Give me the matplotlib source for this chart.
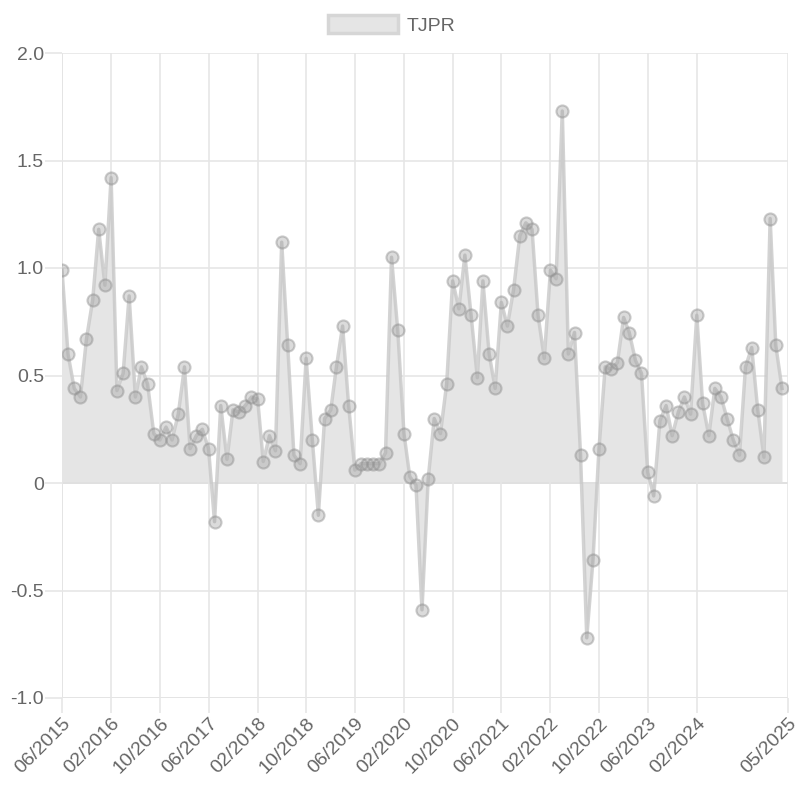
import pandas as pd
import matplotlib
matplotlib.use("Agg")
import matplotlib.pyplot as plt
import matplotlib.dates as mdates
from matplotlib.patches import Patch

series_name = "TJPR"
start_month = "2015-06-01"
end_month = "2025-05-01"

# monthly values 06/2015 .. 04/2025
values = [
    0.99, 0.60, 0.44, 0.40, 0.67, 0.85, 1.18, 0.92, 1.42, 0.43,
    0.51, 0.87, 0.40, 0.54, 0.46, 0.23, 0.20, 0.26, 0.20, 0.32,
    0.54, 0.16, 0.22, 0.25, 0.16, -0.18, 0.36, 0.11, 0.34, 0.33,
    0.36, 0.40, 0.39, 0.10, 0.22, 0.15, 1.12, 0.64, 0.13, 0.09,
    0.58, 0.20, -0.15, 0.30, 0.34, 0.54, 0.73, 0.36, 0.06, 0.09,
    0.09, 0.09, 0.09, 0.14, 1.05, 0.71, 0.23, 0.03, -0.01, -0.59,
    0.02, 0.30, 0.23, 0.46, 0.94, 0.81, 1.06, 0.78, 0.49, 0.94,
    0.60, 0.44, 0.84, 0.73, 0.90, 1.15, 1.21, 1.18, 0.78, 0.58,
    0.99, 0.95, 1.73, 0.60, 0.70, 0.13, -0.72, -0.36, 0.16, 0.54,
    0.53, 0.56, 0.77, 0.70, 0.57, 0.51, 0.05, -0.06, 0.29, 0.36,
    0.22, 0.33, 0.40, 0.32, 0.78, 0.37, 0.22, 0.44, 0.40, 0.30,
    0.20, 0.13, 0.54, 0.63, 0.34, 0.12, 1.23, 0.64, 0.44,
]

tick_dates = ["2015-06", "2016-02", "2016-10", "2017-06", "2018-02", "2018-10",
              "2019-06", "2020-02", "2020-10", "2021-06", "2022-02", "2022-10",
              "2023-06", "2024-02", "2025-05"]
y_ticks = [2.0, 1.5, 1.0, 0.5, 0, -0.5, -1.0]
y_labels = ["2.0", "1.5", "1.0", "0.5", "0", "-0.5", "-1.0"]

dates = pd.date_range(start_month, periods=len(values), freq="MS")

plt.rcParams["font.family"] = ["Liberation Sans", "DejaVu Sans"]
txt = "#666666"
grid = "#e6e6e6"

fig = plt.figure(figsize=(8, 8), dpi=100)
ax = fig.add_axes([62 / 800, 1 - 698 / 800, 726 / 800, 645 / 800])

ax.fill_between(dates, values, 0, color="#e5e5e5", linewidth=0, zorder=1)
ax.plot(dates, values, color="#c8c8c8", alpha=0.8, linewidth=2.5, zorder=2)
ax.scatter(dates, values, s=75, facecolor=(0.6, 0.6, 0.6, 0.35),
           edgecolor=(0.55, 0.55, 0.55, 0.45), linewidth=1.5, zorder=3)

ax.set_ylim(-1.0, 2.0)
ax.set_yticks(y_ticks)
ax.set_yticklabels(y_labels)
ax.set_xlim(pd.Timestamp(start_month), pd.Timestamp(end_month))
ax.set_xticks(pd.to_datetime(tick_dates))
ax.xaxis.set_major_formatter(mdates.DateFormatter("%m/%Y"))

ax.grid(True, color=grid, linewidth=1.2, zorder=0)
ax.axhline(0, color="#bdbdbd", linewidth=1.2, zorder=1)
for s in ax.spines.values():
    s.set_visible(False)
ax.axvline(ax.get_xlim()[0], color="#d8d8d8", linewidth=1.2, zorder=0)
ax.axhline(-1.0, color="#d8d8d8", linewidth=1.2, zorder=0)

ax.tick_params(axis="y", length=12, color=grid, width=1.2, labelcolor=txt,
               labelsize=14, pad=1)
ax.tick_params(axis="x", length=11, color=grid, width=1.2, labelcolor=txt,
               labelsize=14, pad=1)
for lab in ax.get_xticklabels():
    lab.set_rotation(45)
    lab.set_ha("right")
    lab.set_va("top")
    lab.set_rotation_mode("anchor")

handle = Patch(facecolor="#e5e5e5", edgecolor="#d6d6d6", linewidth=2.5)
fig.legend([handle], [series_name], loc="center", bbox_to_anchor=(0.49, 1 - 25 / 800),
           frameon=False, fontsize=14, labelcolor=txt, handlelength=3.6,
           handleheight=1.0, handletextpad=0.45)

fig.savefig("out.png", dpi=100)
